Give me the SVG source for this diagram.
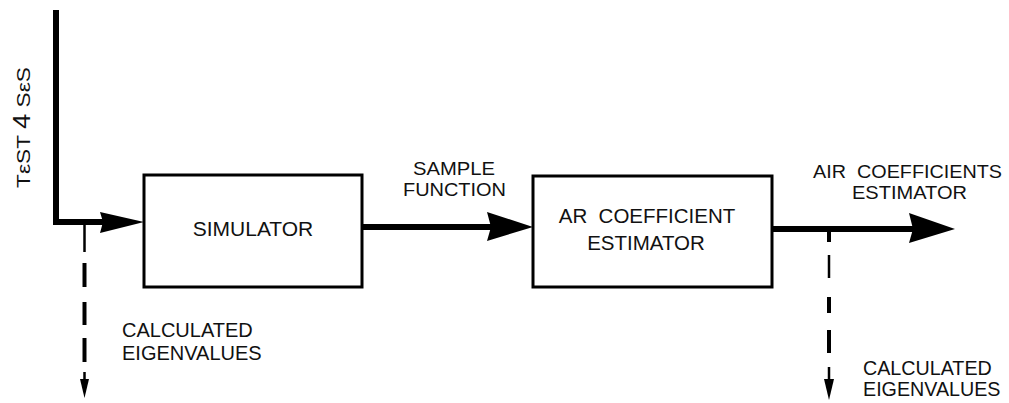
<svg xmlns="http://www.w3.org/2000/svg" width="1009" height="403" viewBox="0 0 1009 403">
<style>
.box{fill:#fff;stroke:#000;stroke-width:3}
.t{font-family:"Liberation Sans",Arial,sans-serif;fill:#111}
.thick{fill:none;stroke:#000;stroke-width:6;stroke-linejoin:miter}
.dash{stroke:#000;stroke-width:4;fill:none}
.thin{stroke:#000;stroke-width:2.5;fill:none}
.head{fill:#000}
</style>
<rect width="1009" height="403" fill="#fff"/>
<g id="connectors">
<polyline class="thick" points="56,10 56,222 104,222"/>
<polygon class="head" points="100,212 144,222 100,233 103,222"/>
<line class="thick" x1="362" y1="227" x2="492" y2="227"/>
<polygon class="head" points="487,212 533,227 487,241 491,227"/>
<line class="thick" x1="772" y1="229" x2="914" y2="229"/>
<polygon class="head" points="909,213 955,229 909,243 913,229"/>
<line class="thin" x1="84.5" y1="225" x2="84.5" y2="252"/>
<line class="dash" x1="84.5" y1="263" x2="84.5" y2="287"/>
<line class="dash" x1="84.5" y1="302" x2="84.5" y2="325"/>
<line class="dash" x1="84.5" y1="338" x2="84.5" y2="362"/>
<line class="thin" x1="84.5" y1="372" x2="84.5" y2="382"/>
<polygon class="head" points="80,379 89,379 84.5,398"/>
<line class="dash" x1="829" y1="230" x2="829" y2="242"/>
<line class="thin" x1="829" y1="255" x2="829" y2="278"/>
<line class="dash" x1="829" y1="297" x2="829" y2="313"/>
<line class="dash" x1="829" y1="330" x2="829" y2="353"/>
<line class="thin" x1="829" y1="367" x2="829" y2="382"/>
<polygon class="head" points="824,379 834,379 829,400"/>
</g>
<g id="simulator">
<rect class="box" x="144" y="175" width="218" height="112"/>
<text class="t" x="253" y="236" font-size="21" text-anchor="middle">SIMULATOR</text>
</g>
<g id="ar-estimator">
<rect class="box" x="533" y="176" width="239" height="111"/>
<text class="t" x="647" y="223" font-size="20.5" text-anchor="middle">AR&#160; COEFFICIENT</text>
<text class="t" x="646" y="250" font-size="20.5" text-anchor="middle">ESTIMATOR</text>
</g>
<g id="labels">
<text class="t" transform="translate(30,188) rotate(-90)" font-size="19" textLength="121" lengthAdjust="spacingAndGlyphs">TεST <tspan font-size="23">4</tspan> SεS</text>
<text class="t" x="454" y="175" font-size="17.5" text-anchor="middle" textLength="82" lengthAdjust="spacingAndGlyphs">SAMPLE</text>
<text class="t" x="454.5" y="195.5" font-size="17.5" text-anchor="middle" textLength="103" lengthAdjust="spacingAndGlyphs">FUNCTION</text>
<text class="t" x="907.5" y="178" font-size="17.5" text-anchor="middle" textLength="189" lengthAdjust="spacingAndGlyphs">AIR&#160; COEFFICIENTS</text>
<text class="t" x="909.5" y="198.5" font-size="17.5" text-anchor="middle" textLength="115" lengthAdjust="spacingAndGlyphs">ESTIMATOR</text>
<text class="t" x="122" y="337" font-size="20">CALCULATED</text>
<text class="t" x="122" y="360" font-size="20">EIGENVALUES</text>
<text class="t" x="863" y="375" font-size="19.7">CALCULATED</text>
<text class="t" x="863" y="396" font-size="19.7">EIGENVALUES</text>
</g>
</svg>
